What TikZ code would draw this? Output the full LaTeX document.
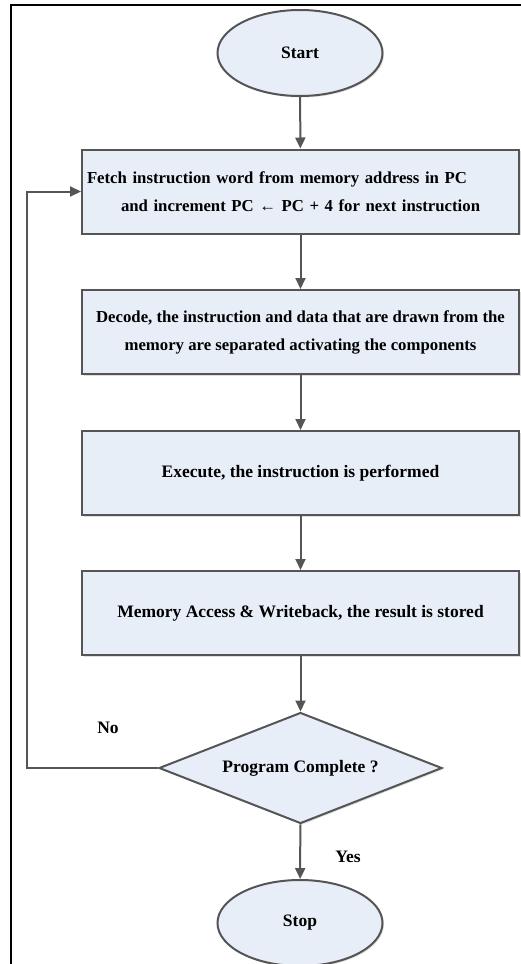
\documentclass[tikz,border=0pt]{standalone}
\usepackage{fontspec}
\setmainfont{Liberation Serif}
\usetikzlibrary{shapes.geometric,arrows.meta,shadows}
\definecolor{linegray}{HTML}{555555}
\definecolor{boxblue}{HTML}{E8EEF8}
\tikzset{
  every node/.style={font=\bfseries\fontsize{17.5}{28}\selectfont},
  narrowtext/.style={font=\bfseries\fontsize{16.75}{28}\selectfont},
  stepshade/.style={drop shadow={opacity=0.25,shadow xshift=1.5pt,shadow yshift=-1.5pt}},
  term/.style={ellipse,draw=linegray,fill=boxblue,line width=2pt,
    minimum width=165pt,minimum height=86pt,inner sep=0pt,stepshade},
  stage/.style={rectangle,draw=linegray,fill=boxblue,line width=2pt,
    minimum width=437pt,minimum height=84pt,inner sep=0pt,align=center,stepshade},
  test/.style={diamond,draw=linegray,fill=boxblue,line width=2pt,aspect=2.5,
    minimum width=283pt,minimum height=111pt,inner sep=0pt,stepshade},
  flow/.style={draw=linegray,line width=2pt,-{Triangle[length=11pt,width=10pt]}}
}
\begin{document}
\begin{tikzpicture}[x=1pt,y=-1pt]
  \useasboundingbox (0,0) rectangle (521,964);
  \draw[line width=1.5pt] (11,964) -- (11,5) -- (521,5);
  \draw
    (300,53) node[term] (start){Start}
    (300.5,191.5) node[stage,narrowtext,align=left,text width=427pt,inner xsep=5pt] (fetch)
      {Fetch instruction word from memory address in PC\\
       \hspace*{34pt}and increment PC ← PC + 4 for next instruction}
    (300.5,332) node[stage,narrowtext] (decode)
      {Decode, the instruction and data that are drawn from the\\
       memory are separated activating the components}
    (300.5,473) node[stage] (execute){Execute, the instruction is performed}
    (300.5,613) node[stage] (memory){Memory Access \& Writeback, the result is stored}
    (300.5,768) node[test] (done){Program Complete ?}
    (300,923) node[term] (stop){Stop}
    (108,728) node (no){No}
    (348,857) node (yes){Yes};
  \coordinate (loop) at (27,768);
  \begin{scope}[flow]
    \draw (start) to (fetch);
    \draw (fetch) to (decode);
    \draw (decode) to (execute);
    \draw (execute) to (memory);
    \draw (memory) to (done);
    \draw (done) to (stop);
    \draw (done.west) -- (loop) |- (fetch.west);
  \end{scope}
\end{tikzpicture}
\end{document}
